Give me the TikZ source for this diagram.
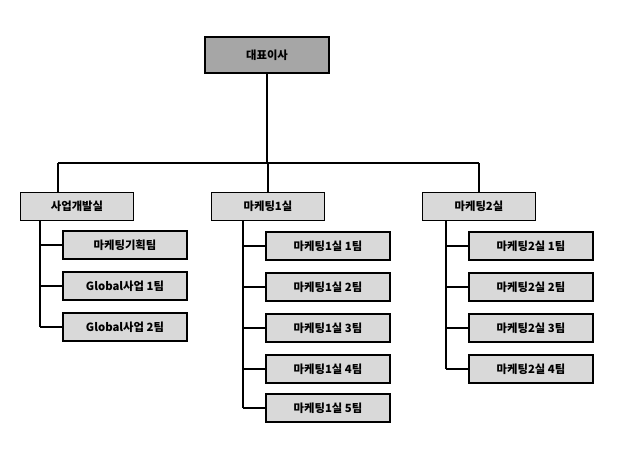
\documentclass[tikz,border=0pt]{standalone}
\usepackage{fontspec}
\setmainfont{Noto Sans CJK KR}
\usetikzlibrary{positioning}
\tikzset{
  box/.style={draw=black, line width=0.9pt, fill=gray!30, minimum height=21pt,
    inner sep=0pt, font=\bfseries\fontsize{8.5}{10}\selectfont},
  topbox/.style={box, fill=gray!70, minimum width=93pt, minimum height=27pt},
  dept/.style={box, minimum width=85pt},
  team/.style={box, minimum width=93pt},
  link/.style={draw=black, line width=0.8pt}
}
\begin{document}
\begin{tikzpicture}[x=0.75pt,y=-0.75pt]
\useasboundingbox (0,0) rectangle (627,449);
\node[topbox] (ceo) at (267,55) {대표이사};
\coordinate (bus) at (267,163);
\node[dept] (d1) at (77,206.5) {사업개발실};
\node[dept] (d2) at (268,206.5) {마케팅1실};
\node[dept] (d3) at (479,206.5) {마케팅2실};
% first department
\node[team] (t11) at (125,245) {마케팅기획팀};
\node[team] (t12) at (125,286) {Global사업 1팀};
\node[team] (t13) at (125,327) {Global사업 2팀};
% second department
\node[team] (t21) at (328,246) {마케팅1실 1팀};
\node[team] (t22) at (328,287) {마케팅1실 2팀};
\node[team] (t23) at (328,328) {마케팅1실 3팀};
\node[team] (t24) at (328,369) {마케팅1실 4팀};
\node[team] (t25) at (328,408) {마케팅1실 5팀};
% third department
\node[team] (t31) at (531,246) {마케팅2실 1팀};
\node[team] (t32) at (531,287) {마케팅2실 2팀};
\node[team] (t33) at (531,328) {마케팅2실 3팀};
\node[team] (t34) at (531,369) {마케팅2실 4팀};
\draw[link] (ceo.south) -- (bus);
\draw[link] (58,163) -- (479,163);
\foreach \d/\x in {d1/58,d2/268,d3/479}
  \draw[link] (\x,163) -- (\d.north -| \x,0);
% spines
\coordinate (s1) at (40,0);
\coordinate (s2) at (243,0);
\coordinate (s3) at (446,0);
\draw[link] (d1.south -| s1) -- (t13.west -| s1);
\draw[link] (d2.south -| s2) -- (t25.west -| s2);
\draw[link] (d3.south -| s3) -- (t34.west -| s3);
\foreach \t in {t11,t12,t13} \draw[link] (\t.west -| s1) -- (\t.west);
\foreach \t in {t21,t22,t23,t24,t25} \draw[link] (\t.west -| s2) -- (\t.west);
\foreach \t in {t31,t32,t33,t34} \draw[link] (\t.west -| s3) -- (\t.west);
\end{tikzpicture}
\end{document}
